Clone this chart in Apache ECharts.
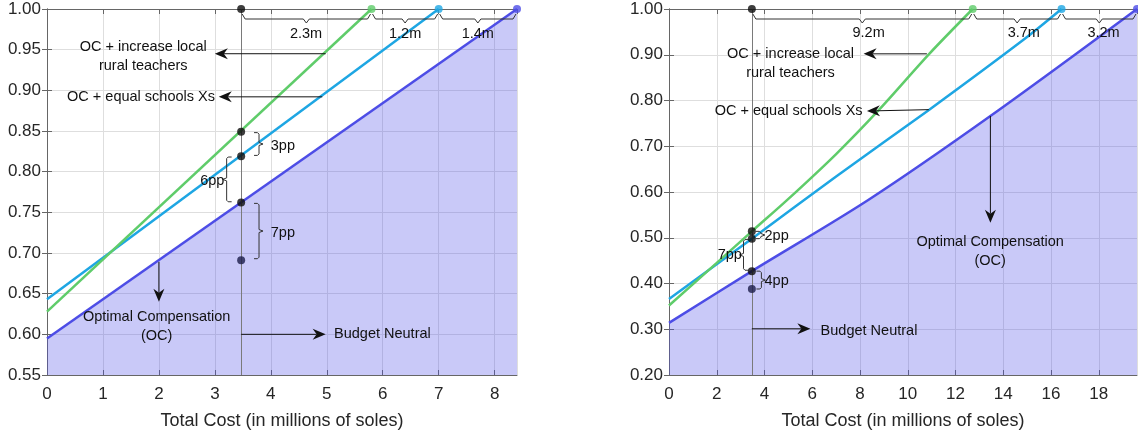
<!DOCTYPE html>
<html><head><meta charset="utf-8">
<script src="https://cdn.jsdelivr.net/npm/echarts@6/dist/echarts.min.js"></script>
<style>html,body{margin:0;padding:0;background:#fff}#c{width:1138px;height:435px}</style>
</head><body><div id="c"></div>
<script>
// ================= DATA =================
const budgetX = 3.47;                       // budget-neutral total cost
const xTitle = 'Total Cost (in millions of soles)';
const nameLocal = 'OC + increase local\nrural teachers';
const nameEqual = 'OC + equal schools Xs';
const nameOC = 'Optimal Compensation\n(OC)';
const nameBudget = 'Budget Neutral';

// Left panel
const leftOC    = [[0, 0.595], [8.4, 1.0]];
const leftEqual = [[0, 0.643], [7.0, 1.0]];
const leftLocal = [[0, 0.628], [5.8, 1.0]];
const leftBudgetY = [1.0, 0.849, 0.819, 0.762];
const leftBaseY = [0.691];
const leftGapLabels = ['2.3m', '1.2m', '1.4m'];
const leftPPLabels = ['3pp', '6pp', '7pp'];

// Right panel
const rightOC    = [[0, 0.314], [3.47, 0.427], [8.36, 0.583], [13.46, 0.766], [19.6, 1.0]];
const rightEqual = [[0, 0.366], [3.47, 0.498], [7, 0.634], [10.9, 0.78], [14.9, 0.935], [16.44, 1.0]];
const rightLocal = [[0, 0.352], [2, 0.445], [3.47, 0.514], [5, 0.585], [7, 0.683], [8.8, 0.78], [10.9, 0.902], [12.72, 1.0]];
const rightBudgetY = [1.0, 0.514, 0.498, 0.427];
const rightBaseY = [0.388];
const rightGapLabels = ['9.2m', '3.7m', '3.2m'];
const rightPPLabels = ['2pp', '7pp', '4pp'];

// ================= ANNOTATION PLACEMENT (data coords) =================
const leftAnn = {
  texts: [[1.72, 0.9415, nameLocal, 'center'], [1.68, 0.892, nameEqual, 'center'],
          [1.96, 0.6095, nameOC, 'center'], [5.13, 0.600, nameBudget, 'left']],
  arrows: [[4.98, 0.945, 3.0, 0.945], [4.92, 0.892, 3.07, 0.892], [2.0, 0.689, 2.0, 0.640], [budgetX, 0.600, 4.98, 0.600]],
  vbraces: [[3.70, 0.848, 0.820, 1], [3.30, 0.818, 0.763, -1], [3.70, 0.761, 0.693, 1]],
  ppPos: [[4.0, 0.832, 'left'], [3.17, 0.789, 'right'], [4.0, 0.724, 'left']],
  gapPos: [[4.63, 0.969], [6.4, 0.969], [7.7, 0.969]]
};
const rightAnn = {
  texts: [[5.09, 0.880, nameLocal, 'center'], [5.01, 0.777, nameEqual, 'center'],
          [13.45, 0.4695, nameOC, 'center'], [6.35, 0.297, nameBudget, 'left']],
  arrows: [[10.8, 0.902, 8.15, 0.902], [10.88, 0.780, 8.29, 0.777], [13.46, 0.766, 13.46, 0.533], [budgetX, 0.301, 5.92, 0.301]],
  vbraces: [[3.64, 0.514, 0.498, 1], [3.33, 0.496, 0.429, -1], [3.66, 0.427, 0.388, 1]],
  ppPos: [[4.0, 0.504, 'left'], [3.05, 0.463, 'right'], [4.0, 0.4055, 'left']],
  gapPos: [[8.36, 0.948], [14.86, 0.948], [18.2, 0.948]]
};

// ================= STYLE =================
const C_OC = '#4d4de6', C_EQ = '#1ea6e3', C_LOC = '#5fcc6a';
const FONT = '"Liberation Sans", Arial, Helvetica, sans-serif';
const ANN_FONT = '14.5px ' + FONT;

function arrowRender(params, api) {
  const p1 = api.coord([api.value(0), api.value(1)]);
  const p2 = api.coord([api.value(2), api.value(3)]);
  const dx = p2[0] - p1[0], dy = p2[1] - p1[1];
  const len = Math.hypot(dx, dy) || 1; const ux = dx / len, uy = dy / len;
  const hl = 13, hw = 5.5, notch = 4;
  const bx = p2[0] - ux * hl, by = p2[1] - uy * hl;
  const nx = -uy, ny = ux;
  const mx = p2[0] - ux * (hl - notch), my = p2[1] - uy * (hl - notch);
  return { type: 'group', children: [
    { type: 'line', shape: { x1: p1[0], y1: p1[1], x2: mx, y2: my }, style: { stroke: '#111', lineWidth: 1 } },
    { type: 'polygon', shape: { points: [[p2[0], p2[1]], [bx + nx * hw, by + ny * hw], [mx, my], [bx - nx * hw, by - ny * hw]] }, style: { fill: '#111' } }
  ]};
}
function vBraceRender(params, api) {
  const x = api.value(0), dir = api.value(3);
  const a = api.coord([x, api.value(1)]), b = api.coord([x, api.value(2)]);
  const w = 5, t = 4;
  const xs = a[0] + dir * w, ym = (a[1] + b[1]) / 2;
  const pts = [[a[0], a[1]], [xs - dir * 1.5, a[1]], [xs, a[1] + 1.5], [xs, ym - 1.5], [xs + dir * t, ym], [xs, ym + 1.5], [xs, b[1] - 1.5], [xs - dir * 1.5, b[1]], [a[0], b[1]]];
  return { type: 'polyline', shape: { points: pts }, style: { stroke: '#333', lineWidth: 1, fill: null } };
}
function hBraceRender(params, api) {
  const y = api.value(2);
  const a = api.coord([api.value(0), y]), b = api.coord([api.value(1), y]);
  const m = (a[0] + b[0]) / 2, yl = a[1] + 10;
  const pts = [[a[0] + 1, a[1] + 5], [a[0] + 4, yl], [m - 3, yl], [m, yl + 4], [m + 3, yl], [b[0] - 4, yl], [b[0] - 1, a[1] + 5]];
  return { type: 'polyline', shape: { points: pts }, style: { stroke: '#333', lineWidth: 1, fill: null } };
}
function textRender(list) {
  return function (params, api) {
    const it = list[params.dataIndex];
    const p = api.coord([api.value(0), api.value(1)]);
    return { type: 'text', x: p[0], y: p[1], style: { text: it[2], fill: '#111', font: ANN_FONT, align: it[3], verticalAlign: 'middle', lineHeight: 19 } };
  };
}

function panelSeries(xi, yi, oc, eq, loc, budY, baseY, gapLabels, ppLabels, ann, smooth) {
  const ends = [budgetX, loc[loc.length - 1][0], eq[eq.length - 1][0], oc[oc.length - 1][0]];
  const hb = [[ends[0], ends[1], 1.0], [ends[1], ends[2], 1.0], [ends[2], ends[3], 1.0]];
  const texts = ann.texts.slice();
  gapLabels.forEach((g, i) => texts.push([ann.gapPos[i][0], ann.gapPos[i][1], g, 'center']));
  ppLabels.forEach((g, i) => texts.push([ann.ppPos[i][0], ann.ppPos[i][1], g, ann.ppPos[i][2]]));
  const base = { xAxisIndex: xi, yAxisIndex: yi, animation: false, silent: true };
  const sm = { smooth: smooth };
  return [
    Object.assign({ type: 'line', data: oc, showSymbol: false, z: 2, lineStyle: { color: C_OC, width: 2.5 },
      areaStyle: { color: 'rgba(75,75,232,0.3)', opacity: 1, origin: 'start' },
      markLine: { symbol: 'none', silent: true, label: { show: false }, lineStyle: { color: '#7a7a7a', width: 1, type: 'solid' }, data: [{ xAxis: budgetX }] } }, sm, base),
    Object.assign({ type: 'line', data: eq, showSymbol: false, z: 3, lineStyle: { color: C_EQ, width: 2.5 } }, sm, base),
    Object.assign({ type: 'line', data: loc, showSymbol: false, z: 3, lineStyle: { color: C_LOC, width: 2.5 } }, sm, base),
    Object.assign({ type: 'custom', z: 5, renderItem: arrowRender, data: ann.arrows, encode: { x: [0, 2], y: [1, 3] } }, base),
    Object.assign({ type: 'custom', z: 5, renderItem: vBraceRender, data: ann.vbraces, encode: { x: 0, y: [1, 2] } }, base),
    Object.assign({ type: 'custom', z: 5, renderItem: hBraceRender, data: hb, encode: { x: [0, 1], y: 2 } }, base),
    Object.assign({ type: 'custom', z: 5, renderItem: textRender(texts), data: texts.map(t => [t[0], t[1]]), encode: { x: 0, y: 1 } }, base),
    Object.assign({ type: 'scatter', z: 6, symbolSize: 8, itemStyle: { color: '#0d0d0d' }, data: budY.map(v => [budgetX, v]) }, base),
    Object.assign({ type: 'scatter', z: 6, symbolSize: 8, itemStyle: { color: '#1c1d4a' }, data: baseY.map(v => [budgetX, v]) }, base),
    Object.assign({ type: 'scatter', z: 6, symbolSize: 8, data: [
      { value: loc[loc.length - 1], itemStyle: { color: C_LOC } },
      { value: eq[eq.length - 1], itemStyle: { color: C_EQ } },
      { value: oc[oc.length - 1], itemStyle: { color: C_OC } }] }, base)
  ];
}

const axisLineStyle = { lineStyle: { color: '#666666', width: 1 } };
const tickStyle = { show: true, inside: true, length: 5, lineStyle: { color: '#666666' } };
const labelStyle = { color: '#262626', fontSize: 17, fontFamily: FONT };
function xAxes(gi, max, interval) {
  return [
    { type: 'value', gridIndex: gi, position: 'bottom', min: 0, max: max, interval: interval,
      axisLine: axisLineStyle, axisTick: tickStyle,
      axisLabel: Object.assign({ margin: 11, showMaxLabel: false }, labelStyle),
      splitLine: { show: true, lineStyle: { color: '#dedede', width: 1 } },
      name: xTitle, nameLocation: 'middle', nameGap: 37,
      nameTextStyle: { color: '#262626', fontSize: 18, fontFamily: FONT } },
    { type: 'value', gridIndex: gi, position: 'top', min: 0, max: max, interval: interval,
      axisLine: axisLineStyle, axisTick: tickStyle, axisLabel: { show: false }, splitLine: { show: false } }
  ];
}
function yAxes(gi, min, interval) {
  return [
    { type: 'value', gridIndex: gi, position: 'left', min: min, max: 1.0, interval: interval,
      axisLine: Object.assign({ show: true }, axisLineStyle), axisTick: tickStyle,
      axisLabel: Object.assign({ margin: 6, formatter: v => v.toFixed(2) }, labelStyle),
      splitLine: { show: true, lineStyle: { color: '#dedede', width: 1 } } },
    { type: 'value', gridIndex: gi, position: 'right', min: min, max: 1.0, interval: interval,
      axisLine: Object.assign({ show: true }, axisLineStyle), axisTick: tickStyle, axisLabel: { show: false }, splitLine: { show: false } }
  ];
}

const chart = echarts.init(document.getElementById('c'), null, { renderer: 'canvas' });
chart.setOption({
  animation: false,
  backgroundColor: '#ffffff',
  grid: [
    { left: 47, right: 621, top: 9, bottom: 58.5 },
    { left: 669, right: 1, top: 9, bottom: 58.5 }
  ],
  xAxis: xAxes(0, 8.4, 1).concat(xAxes(1, 19.6, 2)),
  yAxis: yAxes(0, 0.55, 0.05).concat(yAxes(1, 0.2, 0.1)),
  series: panelSeries(0, 0, leftOC, leftEqual, leftLocal, leftBudgetY, leftBaseY, leftGapLabels, leftPPLabels, leftAnn, false)
    .concat(panelSeries(2, 2, rightOC, rightEqual, rightLocal, rightBudgetY, rightBaseY, rightGapLabels, rightPPLabels, rightAnn, 0.3))
});
</script></body></html>
